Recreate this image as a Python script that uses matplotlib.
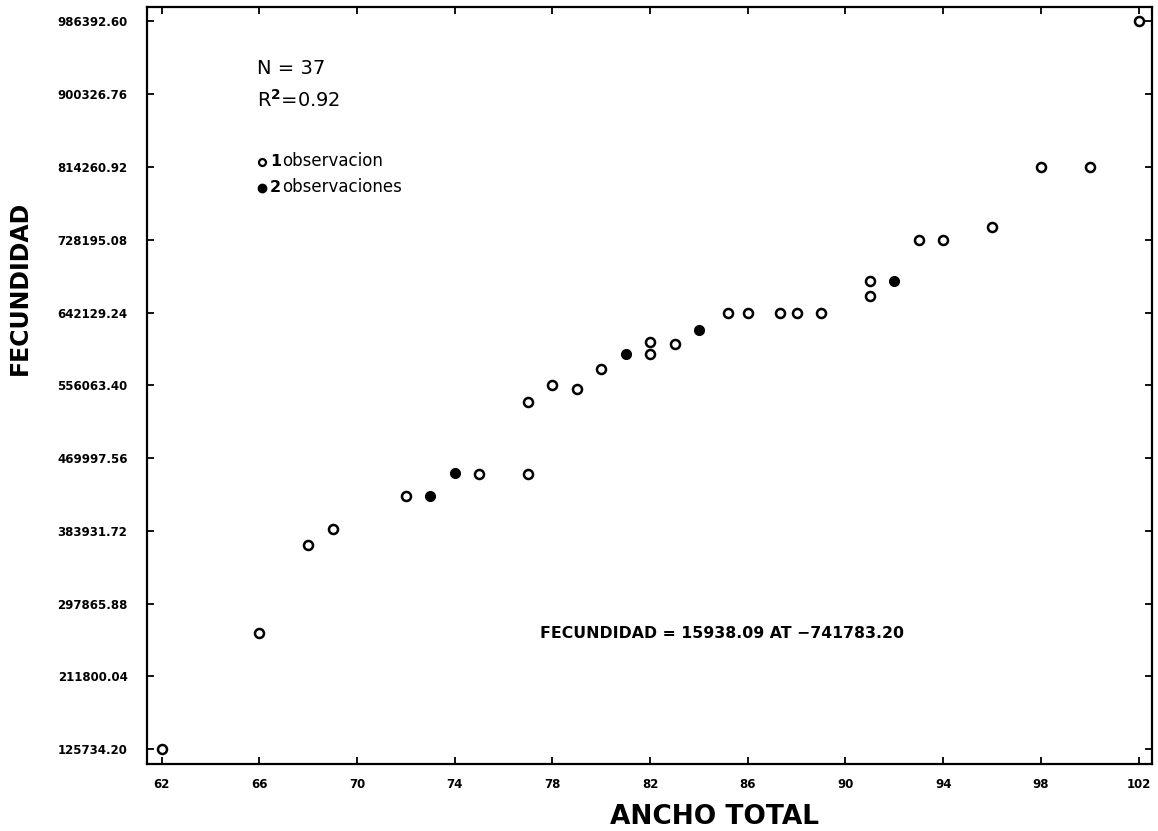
import matplotlib
matplotlib.use("Agg")
import matplotlib.pyplot as plt

# Data
ancho_open = [62, 66, 68, 69, 72, 75, 77, 77, 78, 79, 80, 82, 82, 83,
              85.2, 86, 87.3, 88, 89, 91, 91, 93, 94, 96, 98, 100, 102]
fec_open = [125734, 262870, 366900, 385820, 424830, 450840, 450840, 535960,
            556060, 551330, 574970, 606890, 592700, 604530,
            642130, 642130, 642130, 642130, 642130, 679000, 661270,
            728195, 728195, 742840, 814261, 814261, 986393]
ancho_filled = [73, 74, 81, 84, 92]
fec_filled = [424830, 452020, 592700, 621080, 679000]

xticks = [62, 66, 70, 74, 78, 82, 86, 90, 94, 98, 102]
yticks = [125734.20, 211800.04, 297865.88, 383931.72, 469997.56, 556063.40,
          642129.24, 728195.08, 814260.92, 900326.76, 986392.60]
ytick_labels = ["125734.20", "211800.04", "297865.88", "383931.72", "469997.56",
                "556063.40", "642129.24", "728195.08", "814260.92", "900326.76",
                "986392.60"]

W, H = 1158, 831
fig = plt.figure(figsize=(W / 100, H / 100), dpi=100)
ax = fig.add_axes([147 / W, 1 - 764 / H, (1152 - 147) / W, (764 - 7) / H])

ax.plot(ancho_open, fec_open, linestyle="none", marker="o", markersize=6.5,
        markerfacecolor="white", markeredgecolor="black", markeredgewidth=1.8)
ax.plot(ancho_filled, fec_filled, linestyle="none", marker="o", markersize=7,
        markerfacecolor="black", markeredgecolor="black")

ax.set_xlim(61.4, 102.55)
ax.set_ylim(108200, 1003500)
ax.set_xticks(xticks)
ax.set_xticklabels([str(v) for v in xticks])
ax.set_yticks(yticks)
ax.set_yticklabels(ytick_labels)
for s in ax.spines.values():
    s.set_linewidth(1.6)
ax.tick_params(axis="both", which="both", direction="in", length=5, width=1.3,
               top=True, right=True, labelsize=8.5)
ax.tick_params(axis="y", pad=14)
ax.tick_params(axis="x", pad=10)
for lbl in ax.get_xticklabels() + ax.get_yticklabels():
    lbl.set_fontweight("bold")

def fx(px):
    return px / W

def fy(py):
    return 1 - py / H

fig.text(fx(20), fy(288), "FECUNDIDAD", rotation=90, ha="center", va="center",
         fontsize=17, fontweight="bold")
fig.text(fx(714), fy(817), "ANCHO TOTAL", ha="center", va="center",
         fontsize=19, fontweight="bold")

fig.text(fx(257), fy(68), "N = 37", ha="left", va="center", fontsize=14)
fig.text(fx(257), fy(100), "R$^{\\mathbf{2}}$=0.92", ha="left", va="center", fontsize=14)

# Manual legend
fig.lines.append(plt.Line2D([fx(262)], [fy(162)], transform=fig.transFigure,
                            marker="o", markersize=5, markerfacecolor="white",
                            markeredgecolor="black", markeredgewidth=1.6, linestyle="none"))
fig.lines.append(plt.Line2D([fx(262)], [fy(188)], transform=fig.transFigure,
                            marker="o", markersize=6, markerfacecolor="black",
                            markeredgecolor="black", linestyle="none"))
fig.text(fx(270), fy(162), "1", ha="left", va="center", fontsize=11.5, fontweight="bold")
fig.text(fx(282), fy(161), "observacion", ha="left", va="center", fontsize=12)
fig.text(fx(270), fy(188), "2", ha="left", va="center", fontsize=11.5, fontweight="bold")
fig.text(fx(282), fy(187), "observaciones", ha="left", va="center", fontsize=12)

fig.text(fx(540), fy(634), "FECUNDIDAD = 15938.09 AT \u2212741783.20", ha="left",
         va="center", fontsize=11.3, fontweight="bold")

fig.savefig("out.png", dpi=100)
